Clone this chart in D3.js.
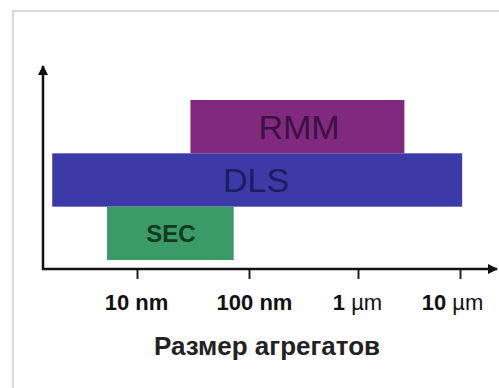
<!DOCTYPE html>
<html lang="ru">
<head>
<meta charset="UTF-8">
<title>Размер агрегатов</title>
<script src="https://d3js.org/d3.v7.min.js"></script>
<style>
  body { margin: 0; background: #fff; }
  svg text { font-family: "Liberation Sans", Arial, sans-serif; }
</style>
</head>
<body>
<svg id="chart" width="499" height="388"></svg>
<script>
// methods and their size ranges (nm)
var methods = ["RMM", "DLS", "SEC"];
var startNm = [30, 1.75, 5.4];
var endNm   = [2850, 10500, 73];
var barColors  = ["#80297f", "#3b3aa6", "#3a9a68"];
var textColors = ["#3a1140", "#1c1c60", "#113a20"];

// x ticks
var tickValues = [10, 100, 1000, 10000];
var tickNum    = ["10 ", "100 ", "1 ", "10 "];
var tickUnit   = ["nm", "nm", "\u00b5m", "\u00b5m"];
var axisTitle = "Размер агрегатов";

var svg = d3.select("#chart");

// light frame around the picture
svg.append("rect")
   .attr("x", 13).attr("y", 11)
   .attr("width", 520).attr("height", 400)
   .attr("fill", "none")
   .attr("stroke", "#d8d8d8")
   .attr("stroke-width", 2);

// hand drawn decades are not evenly spaced, so piecewise log scale
var x = d3.scaleLog()
          .domain(tickValues)
          .range([137, 249, 358, 460]);

var y = d3.scaleBand()
          .domain(methods)
          .range([100, 260])
          .padding(0);

var axisY = 269, axisX = 43;

// bars
svg.selectAll("rect.bar")
   .data(methods)
   .enter()
   .append("rect")
   .attr("class", "bar")
   .attr("x", (d, i) => x(startNm[i]))
   .attr("y", d => y(d))
   .attr("width", (d, i) => x(endNm[i]) - x(startNm[i]))
   .attr("height", y.bandwidth())
   .attr("fill", (d, i) => barColors[i]);

// bar labels
var labelSize = { RMM: 34, DLS: 34, SEC: 24 };
svg.selectAll("text.bar-label")
   .data(methods)
   .enter()
   .append("text")
   .attr("class", "bar-label")
   .attr("x", (d, i) => d == "SEC" ? 171 : (d == "RMM" ? 299 : 256))
   .attr("y", d => y(d) + y.bandwidth() / 2)
   .attr("dy", "0.36em")
   .attr("text-anchor", "middle")
   .attr("font-size", d => labelSize[d])
   .attr("font-weight", d => d == "SEC" ? "bold" : "normal")
   .attr("fill", (d, i) => textColors[i])
   .text(d => d);

// arrow heads
var defs = svg.append("defs");
defs.append("marker")
    .attr("id", "arrow")
    .attr("viewBox", "0 0 10 10")
    .attr("refX", 9).attr("refY", 5)
    .attr("markerWidth", 4).attr("markerHeight", 4)
    .attr("orient", "auto")
    .append("path")
    .attr("d", "M0,0 L10,5 L0,10 Z")
    .attr("fill", "#111");

// y axis
svg.append("line")
   .attr("x1", axisX).attr("y1", axisY + 1)
   .attr("x2", axisX).attr("y2", 66)
   .attr("stroke", "#111").attr("stroke-width", 2.5)
   .attr("marker-end", "url(#arrow)");

// x axis
svg.append("line")
   .attr("x1", axisX - 1).attr("y1", axisY)
   .attr("x2", 497).attr("y2", axisY)
   .attr("stroke", "#111").attr("stroke-width", 2.5)
   .attr("marker-end", "url(#arrow)");

// ticks + labels via d3 axis
var xAxis = d3.axisBottom(x)
              .tickValues(tickValues)
              .tickSize(9)
              .tickSizeOuter(0)
              .tickFormat("");

var gx = svg.append("g")
   .attr("transform", `translate(0,${axisY + 1})`)
   .call(xAxis);
gx.select(".domain").remove();
gx.selectAll(".tick line").attr("stroke", "#222").attr("stroke-width", 2);

var labelShift = [-1, 5, -1, -8];
gx.selectAll(".tick")
  .append("text")
  .attr("class", "tick-label")
  .attr("x", (d, i) => labelShift[i])
  .attr("y", 40)
  .attr("text-anchor", "middle")
  .attr("fill", "#111")
  .attr("font-size", 22)
  .attr("font-weight", "bold")
  .each(function(d, i) {
      var t = d3.select(this);
      t.append("tspan").text(tickNum[i]);
      t.append("tspan")
       .attr("font-weight", tickUnit[i] == "nm" ? "bold" : "normal")
       .text(tickUnit[i]);
  });

// axis title
svg.append("text")
   .attr("x", 267)
   .attr("y", 355)
   .attr("text-anchor", "middle")
   .attr("font-size", 26)
   .attr("font-weight", "bold")
   .attr("fill", "#222")
   .text(axisTitle);
</script>
</body>
</html>
